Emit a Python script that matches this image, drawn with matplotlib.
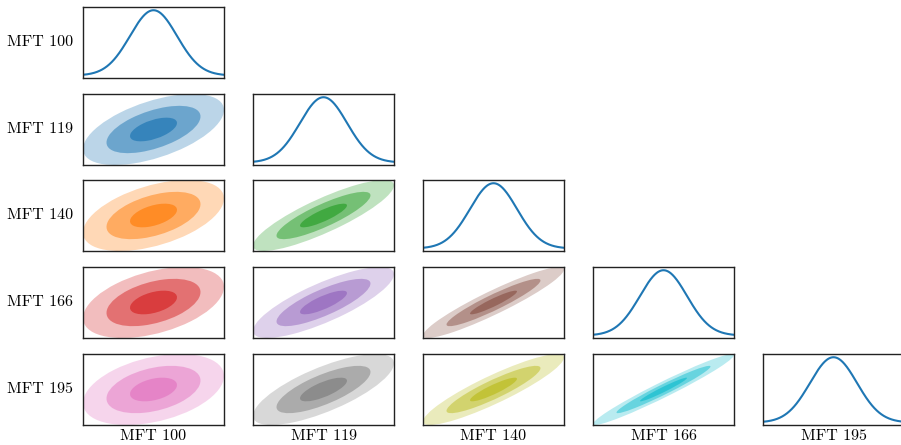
import numpy as np
import matplotlib
matplotlib.use('Agg')
import matplotlib.pyplot as plt
from matplotlib.patches import Ellipse

plt.rcParams['font.family'] = 'serif'
plt.rcParams['font.serif'] = ['cmr10', 'DejaVu Serif']
plt.rcParams['axes.formatter.use_mathtext'] = True

# channel names
names = ["MFT 100", "MFT 119", "MFT 140", "MFT 166", "MFT 195"]
sigmas = [1.0, 1.0, 1.0, 1.0, 1.0]
means = [0.0, 0.0, 0.0, 0.0, 0.0]
# lower triangle correlations, row by row
corr_lower = [
    [0.55],
    [0.48, 0.85],
    [0.44, 0.80, 0.93],
    [0.38, 0.74, 0.90, 0.97],
]
colors = ['tab:blue', 'tab:orange', 'tab:green', 'tab:red', 'tab:purple',
          'tab:brown', 'tab:pink', 'tab:gray', 'tab:olive', 'tab:cyan']
levels = [3, 2, 1]
level_alpha = [0.3, 0.5, 0.7]

n = len(names)
W, H = 901, 445
fig = plt.figure(figsize=(W / 100, H / 100), dpi=100)

lefts = [83, 253, 423, 593, 763]
tops = [7, 94, 180, 267, 354]
aw, ah = 141, 71

k = 0
for i in range(n):
    for j in range(i + 1):
        ax = fig.add_axes([lefts[j] / W, 1 - (tops[i] + ah) / H, aw / W, ah / H])
        sx, sy = sigmas[j], sigmas[i]
        if i == j:
            x = np.linspace(means[i] - 3 * sx, means[i] + 3 * sx, 300)
            y = np.exp(-0.5 * ((x - means[i]) / sx) ** 2) / (sx * np.sqrt(2 * np.pi))
            ax.plot(x, y, color='tab:blue', lw=1.5)
            ax.set_xlim(x[0], x[-1])
        else:
            rho = corr_lower[i - 1][j]
            cov = np.array([[sx * sx, rho * sx * sy], [rho * sx * sy, sy * sy]])
            vals, vecs = np.linalg.eigh(cov)
            ang = np.degrees(np.arctan2(vecs[1, 1], vecs[0, 1]))
            for ns, a in zip(levels, level_alpha):
                e = Ellipse((means[j], means[i]), 2 * ns * np.sqrt(vals[1]),
                            2 * ns * np.sqrt(vals[0]), angle=ang,
                            facecolor=colors[k], alpha=a, edgecolor='none')
                ax.add_patch(e)
            ax.set_xlim(means[j] - 3 * sx, means[j] + 3 * sx)
            ax.set_ylim(means[i] - 3 * sy, means[i] + 3 * sy)
            k += 1
        ax.set_xticks([])
        ax.set_yticks([])
        for s in ax.spines.values():
            s.set_linewidth(1.0)
            s.set_color('#222222')
        if j == 0:
            ax.set_ylabel(names[i], rotation=0, fontsize=11.5, ha='right', va='center', labelpad=7)
        if i == n - 1:
            ax.set_xlabel(names[j], fontsize=11.5, labelpad=3)

fig.savefig('out.png', dpi=100)
